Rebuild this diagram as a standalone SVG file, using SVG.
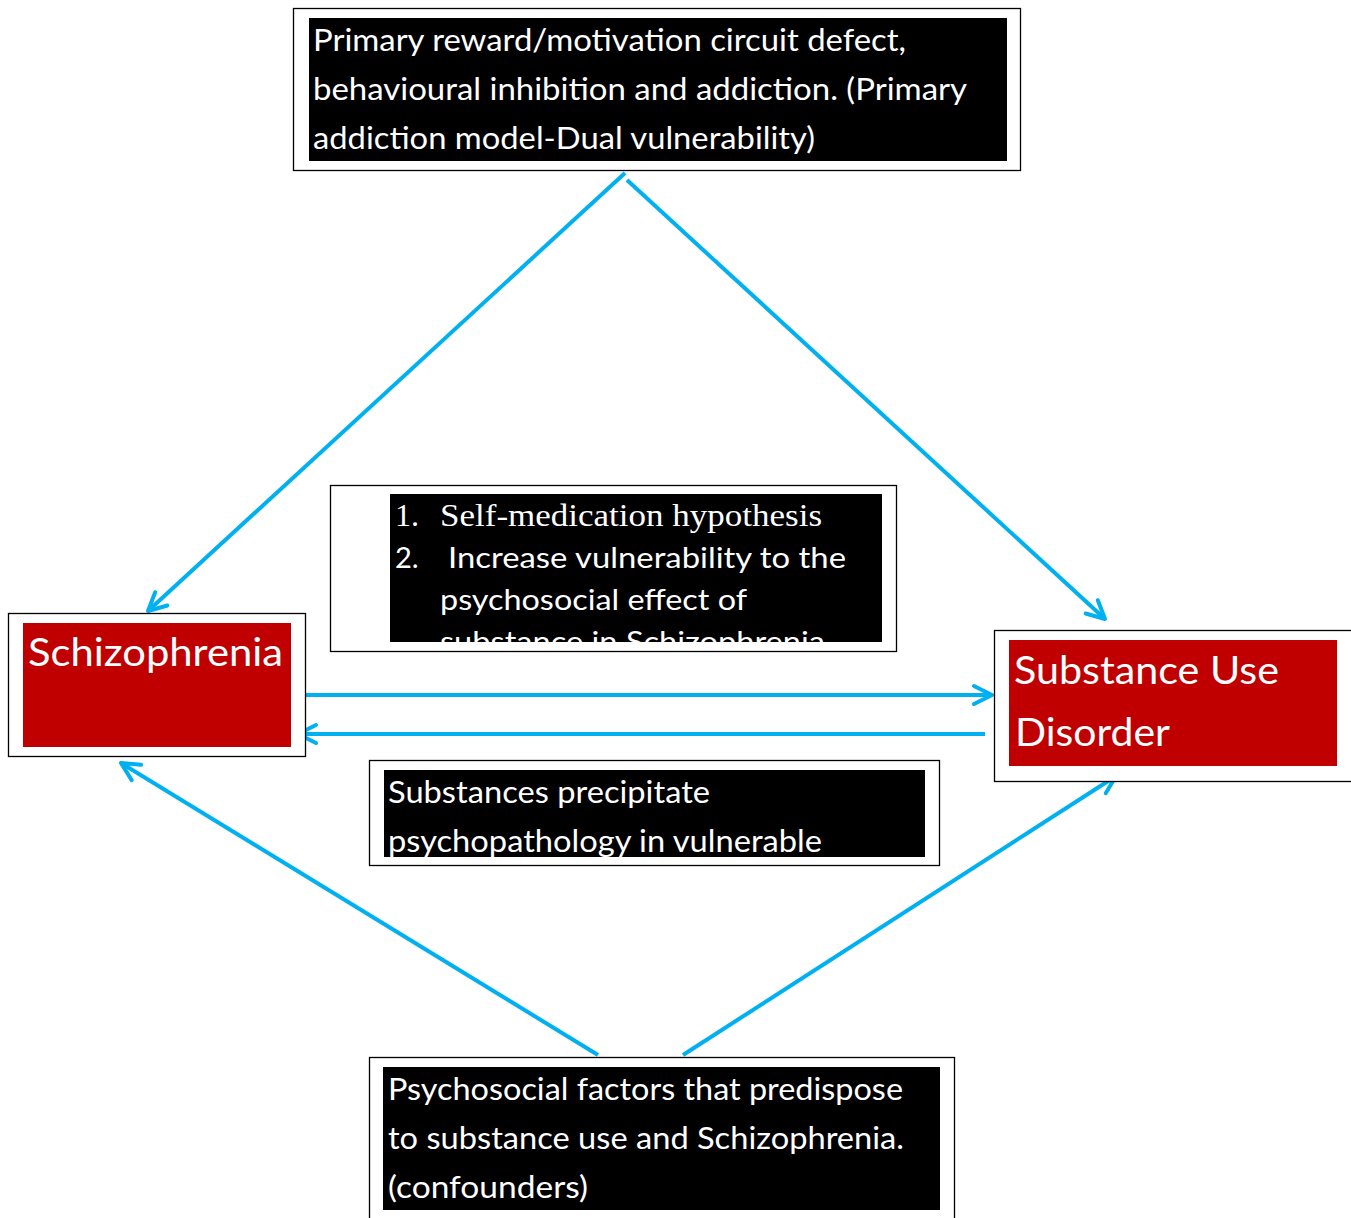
<svg xmlns="http://www.w3.org/2000/svg" width="1351" height="1218" viewBox="0 0 1351 1218">
<defs>
<style>
.frame{fill:#fff;stroke:#000;stroke-width:1.3}
.blk{fill:#000}
.red{fill:#C00000}
.t{font-family:Lato,"Open Sans","Liberation Sans",sans-serif;fill:#fff}
.s{font-family:"Liberation Serif","Times New Roman",serif;fill:#fff}
.conn{stroke:#00B0F0;stroke-width:4;fill:none;marker-end:url(#ah)}
</style>
<marker id="ah" viewBox="0 0 24 24" refX="21" refY="12" markerWidth="24" markerHeight="24" markerUnits="userSpaceOnUse" orient="auto">
<path d="M3,3 L21,12 L3,21" fill="none" stroke="#00B0F0" stroke-width="4" stroke-linecap="round" stroke-linejoin="round"/>
</marker>
<clipPath id="cMid"><rect x="390" y="494" width="492" height="148"/></clipPath>
<clipPath id="cSub"><rect x="384" y="770" width="541" height="87"/></clipPath>
</defs>

<g id="connectors">
<line class="conn" x1="625" y1="173" x2="148" y2="611"/>
<line class="conn" x1="627" y1="180" x2="1105" y2="619"/>
<line class="conn" x1="306" y1="695" x2="992" y2="695"/>
<line class="conn" x1="985" y1="734" x2="298" y2="734"/>
<line class="conn" x1="598" y1="1055" x2="121" y2="763"/>
<line class="conn" x1="683" y1="1055" x2="1116" y2="776"/>
</g>

<g id="node-primary">
<rect class="frame" x="293.5" y="8.5" width="727" height="162"/>
<rect class="blk" x="309" y="18" width="698" height="143"/>
<text class="t" font-size="30" x="313" y="51" textLength="593" lengthAdjust="spacingAndGlyphs">Primary reward/motivation circuit defect,</text>
<text class="t" font-size="30" x="313" y="100" textLength="654" lengthAdjust="spacingAndGlyphs">behavioural inhibition and addiction. (Primary</text>
<text class="t" font-size="30" x="313" y="149" textLength="502" lengthAdjust="spacingAndGlyphs">addiction model-Dual vulnerability)</text>
</g>

<g id="node-hypotheses">
<rect class="frame" x="330.5" y="485.5" width="566" height="166"/>
<rect class="blk" x="390" y="494" width="492" height="148"/>
<g clip-path="url(#cMid)">
<text class="s" font-size="32" x="395" y="526">1.</text>
<text class="s" font-size="32" x="440" y="526" textLength="382" lengthAdjust="spacingAndGlyphs">Self-medication hypothesis</text>
<text class="t" font-size="29" x="395" y="568">2.</text>
<text class="t" font-size="29" x="448" y="568" textLength="398" lengthAdjust="spacingAndGlyphs">Increase vulnerability to the</text>
<text class="t" font-size="29" x="440" y="610" textLength="307" lengthAdjust="spacingAndGlyphs">psychosocial effect of</text>
<text class="t" font-size="29" x="440" y="652" textLength="385" lengthAdjust="spacingAndGlyphs">substance in Schizophrenia</text>
</g>
</g>

<g id="node-schizophrenia">
<rect class="frame" x="8.5" y="613.5" width="297" height="143"/>
<rect class="red" x="23" y="623" width="268" height="124"/>
<text class="t" font-size="39" x="28" y="666" textLength="255" lengthAdjust="spacingAndGlyphs">Schizophrenia</text>
</g>

<g id="node-sud">
<rect class="frame" x="994.5" y="630.5" width="360" height="151"/>
<rect class="red" x="1009" y="640" width="328" height="126"/>
<text class="t" font-size="39" x="1014" y="684" textLength="265" lengthAdjust="spacingAndGlyphs">Substance Use</text>
<text class="t" font-size="39" x="1015" y="746" textLength="155" lengthAdjust="spacingAndGlyphs">Disorder</text>
</g>

<g id="node-precipitate">
<rect class="frame" x="369.5" y="760.5" width="570" height="105"/>
<rect class="blk" x="384" y="770" width="541" height="87"/>
<g clip-path="url(#cSub)">
<text class="t" font-size="30" x="388" y="803" textLength="322" lengthAdjust="spacingAndGlyphs">Substances precipitate</text>
<text class="t" font-size="30" x="388" y="852" textLength="434" lengthAdjust="spacingAndGlyphs">psychopathology in vulnerable</text>
</g>
</g>

<g id="node-confounders">
<rect class="frame" x="369.5" y="1057.5" width="585" height="170"/>
<rect class="blk" x="383" y="1067" width="557" height="143"/>
<text class="t" font-size="30" x="388" y="1100" textLength="515" lengthAdjust="spacingAndGlyphs">Psychosocial factors that predispose</text>
<text class="t" font-size="30" x="388" y="1149" textLength="516" lengthAdjust="spacingAndGlyphs">to substance use and Schizophrenia.</text>
<text class="t" font-size="30" x="388" y="1198" textLength="200" lengthAdjust="spacingAndGlyphs">(confounders)</text>
</g>
</svg>
